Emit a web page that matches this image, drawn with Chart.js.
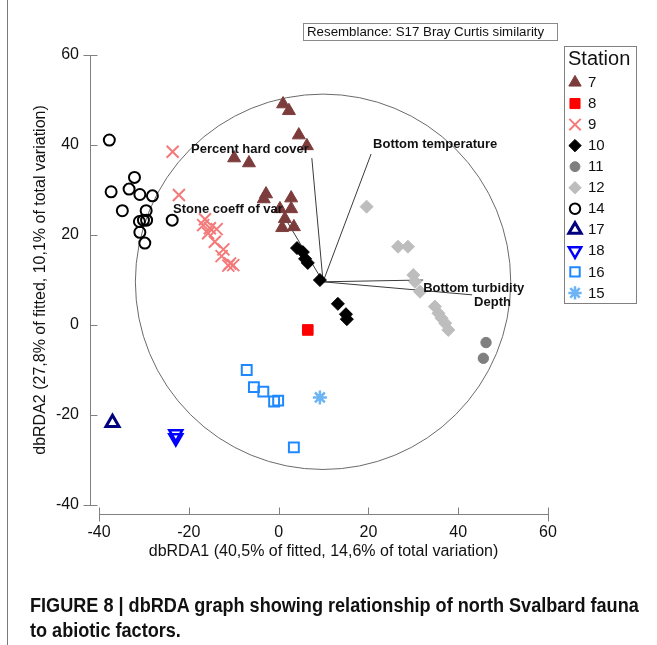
<!DOCTYPE html>
<html><head><meta charset="utf-8">
<script src="https://cdn.jsdelivr.net/npm/chart.js@4/dist/chart.umd.min.js"></script>
<style>
html,body{margin:0;padding:0;background:#fff;}
#wrap{position:relative;width:657px;height:645px;overflow:hidden;}
#c{position:absolute;left:0;top:0;}
#frame{position:absolute;left:7px;top:0;width:0;height:645px;border-left:1.5px solid #7a7a7a;}
#cap{position:absolute;left:30px;top:593px;width:700px;white-space:nowrap;font-family:"Liberation Sans",Arial,Helvetica,sans-serif;font-weight:bold;font-size:20px;line-height:25px;color:#111;transform:scaleX(0.905);transform-origin:0 0;}
</style></head><body>
<div id="wrap">
<canvas id="c" width="657" height="645"></canvas>
<div id="frame"></div>
<div id="cap">FIGURE 8 | dbRDA graph showing relationship of north Svalbard fauna<br>to abiotic factors.</div>
</div>
<script>
// ---------------- data ----------------
const stationNames = ['7','8','9','10','11','12','14','17','18','16','15'];
const station7  = [[1.0,49.1],[2.3,47.6],[4.5,42.2],[6.3,39.8],[-9.9,37.1],[-6.6,36.0],[-2.8,29.1],[-3.3,28.0],[2.8,28.2],[2.8,25.8],[0.3,25.8],[1.4,23.6],[0.8,21.6],[3.4,21.8]];
const station8  = [[6.5,-1.1]];
const station9  = [[-23.6,38.5],[-22.2,28.9],[-16.4,23.5],[-16.8,22.2],[-15.3,21.5],[-13.8,21.3],[-15.7,20.4],[-14.2,18.5],[-12.3,16.8],[-12.7,15.3],[-10.8,13.7],[-10.1,13.3],[-11.2,13.2]];
const station10 = [[4.1,17.1],[5.4,16.2],[5.9,14.7],[6.5,13.8],[9.2,10.0],[13.2,4.7],[15.0,2.4],[15.2,1.3]];
const station11 = [[46.2,-3.9],[45.6,-7.4]];
const station12 = [[19.6,26.3],[26.6,17.4],[28.8,17.4],[30.0,11.1],[30.4,9.6],[31.5,7.4],[34.8,4.1],[35.6,2.6],[36.3,1.5],[37.1,0.4],[37.8,-1.1]];
const station14 = [[-37.7,41.1],[-32.1,32.8],[-37.3,29.6],[-33.3,30.2],[-30.9,29.0],[-28.1,28.7],[-34.8,25.4],[-29.5,25.4],[-31.0,23.0],[-30.1,23.3],[-29.4,23.3],[-30.9,20.6],[-29.8,18.2],[-23.7,23.3]];
const station17 = [[-37.0,-21.7]];
const station18 = [[-22.9,-24.2],[-22.9,-25.1]];
const station16 = [[-7.1,-10.0],[-5.5,-13.8],[-3.4,-14.8],[-1.0,-17.0],[-0.1,-16.8],[3.4,-27.2]];
const station15 = [[9.2,-16.1]];
const stationData = [station7,station8,station9,station10,station11,station12,station14,station17,station18,station16,station15];

const vectorNames = ['Percent hard cover','Bottom temperature','Stone coeff of var','Bottom turbidity','Depth'];
const vectorX = [7.4, 20.6, 1.4, 32.2, 43.1];
const vectorY = [37.1, 38.0, 23.8, 10.0, 6.7];
const vectorOrigin = [9.9, 9.6];
const circleRadius = 41.8;

const xTicks = [-40,-20,0,20,40,60];
const yTicks = [-40,-20,0,20,40,60];
const xTitle = 'dbRDA1 (40,5% of fitted, 14,6% of total variation)';
const yTitle = 'dbRDA2 (27,8% of fitted, 10,1% of total variation)';
const noteText = 'Resemblance: S17 Bray Curtis similarity';
const legendTitle = 'Station';

// ---------------- styles ----------------
const FONT = '"Liberation Sans", Arial, Helvetica, sans-serif';
const markerStyles = [
  {style:'triangle', color:'#7d3c3c', fill:true,  r:7.5, bw:1},
  {style:'rect',     color:'#ff0000', fill:true,  r:7.5, bw:1},
  {style:'crossRot', color:'#f47a7a', fill:false, r:8.5, bw:2},
  {style:'rectRot',  color:'#000000', fill:true,  r:6.5, bw:1},
  {style:'circle',   color:'#7f7f7f', fill:true,  r:5.2, bw:1},
  {style:'rectRot',  color:'#bdbdbd', fill:true,  r:6.5, bw:1},
  {style:'circle',   color:'#000000', fill:false, r:5.5, bw:2},
  {style:'triangle', color:'#00007f', fill:false, r:7.5, bw:3},
  {style:'triangle', color:'#0000ff', fill:false, r:7.5, bw:2.5, rot:180},
  {style:'rect',     color:'#1e88ff', fill:false, r:7,   bw:2},
  {style:'star',     color:'#6cb4f4', fill:false, r:7,   bw:2.5}
];
// label offsets (px) relative to each vector tip
const vectorLabelPos = [
  {align:'right', dx:-3, dy:-9},
  {align:'left',  dx:2,  dy:-10},
  {align:'right', dx:-2, dy:-8},
  {align:'left',  dx:0,  dy:8},
  {align:'left',  dx:2,  dy:8}
];

Chart.defaults.font.family = FONT;
Chart.defaults.color = '#111';

const datasets = [];
stationData.forEach((pts, i) => {
  const s = markerStyles[i];
  datasets.push({
    label: stationNames[i],
    data: pts.map(p => ({x:p[0], y:p[1]})),
    pointStyle: s.style,
    pointRadius: s.r,
    pointHoverRadius: s.r,
    pointRotation: s.rot || 0,
    pointBorderWidth: s.bw,
    borderColor: s.color,
    backgroundColor: s.fill ? s.color : 'rgba(0,0,0,0)',
    showLine: false,
    order: 0
  });
});
vectorNames.forEach((n, i) => {
  datasets.push({
    label: n,
    type: 'line',
    data: [{x:vectorOrigin[0], y:vectorOrigin[1]}, {x:vectorX[i], y:vectorY[i]}],
    borderColor: '#3a3a3a',
    borderWidth: 1,
    pointRadius: 0,
    fill: false,
    showLine: true,
    order: 5
  });
});

const decor = {
  id: 'decor',
  beforeDatasetsDraw(chart) {
    const {ctx, scales:{x, y}} = chart;
    ctx.save();
    // correlation circle
    const cx = x.getPixelForValue(vectorOrigin[0]);
    const cy = y.getPixelForValue(vectorOrigin[1]);
    const r = x.getPixelForValue(vectorOrigin[0] + circleRadius) - cx;
    ctx.beginPath();
    ctx.arc(cx, cy, r, 0, Math.PI * 2);
    ctx.strokeStyle = '#6a6a6a';
    ctx.lineWidth = 1;
    ctx.stroke();
    // offset axes
    ctx.strokeStyle = '#808080';
    ctx.lineWidth = 1;
    const ax = Math.round(x.left - 9) + 0.5;
    const y0 = y.getPixelForValue(yTicks[0]), y1 = y.getPixelForValue(yTicks[yTicks.length-1]);
    ctx.beginPath(); ctx.moveTo(ax, y0); ctx.lineTo(ax, y1); ctx.stroke();
    yTicks.forEach((v, i) => {
      const py = Math.round(y.getPixelForValue(v)) + 0.5;
      const ends = (i === 0 || i === yTicks.length - 1);
      ctx.beginPath(); ctx.moveTo(ends ? ax - 7 : ax, py); ctx.lineTo(ax + 7, py); ctx.stroke();
    });
    const ay = Math.round(y.bottom + 9) + 0.5;
    const x0 = x.getPixelForValue(xTicks[0]), x1 = x.getPixelForValue(xTicks[xTicks.length-1]);
    ctx.beginPath(); ctx.moveTo(x0, ay); ctx.lineTo(x1, ay); ctx.stroke();
    xTicks.forEach((v, i) => {
      const px = Math.round(x.getPixelForValue(v)) + 0.5;
      const ends = (i === 0 || i === xTicks.length - 1);
      ctx.beginPath(); ctx.moveTo(px, ay - 7); ctx.lineTo(px, ends ? ay + 7 : ay); ctx.stroke();
    });
    ctx.restore();
  },
  afterDatasetsDraw(chart) {
    const {ctx, scales:{x, y}} = chart;
    ctx.save();
    // vector labels
    ctx.font = 'bold 13px ' + FONT;
    ctx.fillStyle = '#111';
    ctx.textBaseline = 'middle';
    vectorNames.forEach((n, i) => {
      const p = vectorLabelPos[i];
      ctx.textAlign = p.align;
      ctx.fillText(n, x.getPixelForValue(vectorX[i]) + p.dx, y.getPixelForValue(vectorY[i]) + p.dy);
    });
    // resemblance note
    ctx.strokeStyle = '#8a8a8a';
    ctx.lineWidth = 1;
    ctx.strokeRect(303.5, 23.5, 254, 17);
    ctx.font = '13.3px ' + FONT;
    ctx.textAlign = 'left';
    ctx.fillText(noteText, 307, 32.5);
    // legend
    ctx.strokeStyle = '#808080';
    ctx.strokeRect(564.5, 46.5, 72, 257);
    ctx.font = '20px ' + FONT;
    ctx.fillText(legendTitle, 568, 59);
    ctx.font = '15px ' + FONT;
    const draw = Chart.helpers && Chart.helpers.drawPoint;
    stationNames.forEach((n, i) => {
      const s = markerStyles[i];
      const ly = 82.5 + i * 21.04;
      ctx.save();
      ctx.fillStyle = s.fill ? s.color : 'rgba(0,0,0,0)';
      ctx.strokeStyle = s.color;
      ctx.lineWidth = s.bw;
      if (draw) draw(ctx, {pointStyle: s.style, radius: s.r * 0.95, rotation: s.rot || 0, borderWidth: s.bw}, 575, ly);
      ctx.restore();
      ctx.fillStyle = '#111';
      ctx.fillText(n, 588, ly + 0.5);
    });
    ctx.restore();
  }
};

new Chart(document.getElementById('c'), {
  type: 'scatter',
  data: { datasets },
  options: {
    responsive: false,
    animation: false,
    devicePixelRatio: 1,
    layout: { padding: { top: 55, right: 109, bottom: 0, left: 0 } },
    plugins: { legend: { display: false }, tooltip: { enabled: false } },
    scales: {
      x: {
        type: 'linear', min: -40, max: 60,
        afterFit(s) { s.height = 140; },
        afterBuildTicks(s) { s.ticks = xTicks.map(v => ({value: v})); },
        grid: { display: false, drawTicks: false },
        border: { display: false },
        ticks: { font: { size: 16 }, color: '#111', padding: 18 },
        title: { display: true, text: xTitle, font: { size: 16 }, color: '#111', padding: { top: 0, bottom: 84 } }
      },
      y: {
        type: 'linear', min: -40, max: 60,
        afterFit(s) { s.width = 99; },
        afterBuildTicks(s) { s.ticks = yTicks.map(v => ({value: v})); },
        grid: { display: false, drawTicks: false },
        border: { display: false },
        ticks: { font: { size: 16 }, color: '#111', padding: 20 },
        title: { display: true, text: yTitle, font: { size: 16 }, color: '#111', padding: { top: 31, bottom: 0 } }
      }
    }
  },
  plugins: [decor]
});
</script>
</body></html>
